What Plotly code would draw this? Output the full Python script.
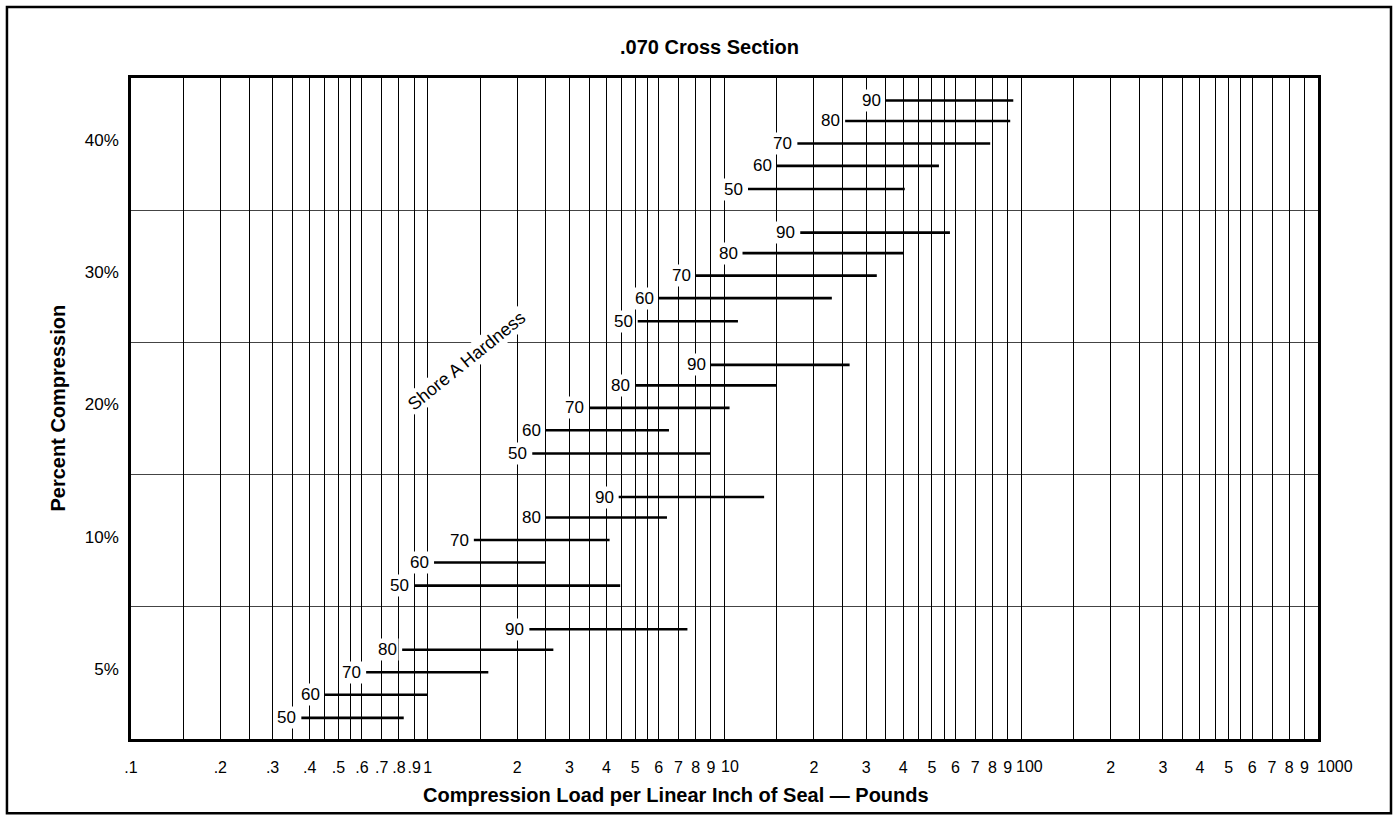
import math
import plotly.graph_objects as go

# ---------------- data ----------------
compression = ["5%", "10%", "20%", "30%", "40%"]
hardness = [50, 60, 70, 80, 90]

# load (lb per linear inch) where each hardness bar starts / ends, per compression band
start_5 = [0.375, 0.45, 0.62, 0.82, 2.2]
end_5 = [0.83, 1.0, 1.6, 2.65, 7.5]
start_10 = [0.9, 1.05, 1.43, 2.5, 4.4]
end_10 = [4.45, 2.5, 4.1, 6.4, 13.6]
start_20 = [2.25, 2.5, 3.5, 5.0, 9.0]
end_20 = [9.0, 6.5, 10.4, 15.0, 26.4]
start_30 = [5.1, 6.0, 8.0, 11.5, 18.0]
end_30 = [11.1, 23.0, 32.6, 40.2, 57.5]
start_40 = [12.0, 15.0, 17.6, 25.5, 35.0]
end_40 = [40.5, 52.8, 78.6, 91.8, 94.0]

starts = [start_5, start_10, start_20, start_30, start_40]
ends = [end_5, end_10, end_20, end_30, end_40]

# x axis grid & labels
grid_mantissas = [1, 1.5, 2, 2.5, 3, 3.5, 4, 4.5, 5, 5.5, 6, 7, 8, 9]
grid_decades = [0.1, 1, 10, 100]
tick_values = [0.1, 0.2, 0.3, 0.4, 0.5, 0.6, 0.7, 0.8, 0.9,
               1, 2, 3, 4, 5, 6, 7, 8, 9,
               20, 30, 40, 50, 60, 70, 80, 90,
               200, 300, 400, 500, 600, 700, 800, 900]
tick_labels = [".1", ".2", ".3", ".4", ".5", ".6", ".7", ".8", ".9",
               "1", "2", "3", "4", "5", "6", "7", "8", "9",
               "2", "3", "4", "5", "6", "7", "8", "9",
               "2", "3", "4", "5", "6", "7", "8", "9"]
# decade labels printed just to the right of their grid line
decade_values = [10, 100, 1000]
decade_labels = ["10", "100", "1000"]

# ---------------- layout constants ----------------
row_offset = [0.16, 0.335, 0.505, 0.675, 0.83]   # position of each hardness bar within its band
decade_shift = [-6, -7, -3]
FONT = "Liberation Sans, Arial, Helvetica, sans-serif"

grid_values = [round(d * m, 6) for d in grid_decades for m in grid_mantissas] + [1000]
label_for = {round(v, 6): t for v, t in zip(tick_values, tick_labels)}
grid_text = [label_for.get(round(v, 6), "") for v in grid_values]

fig = go.Figure()

xs, ys = [], []
annotations = []
for bi, band in enumerate(compression):
    for hi, h in enumerate(hardness):
        y = bi + row_offset[hi]
        xs += [starts[bi][hi], ends[bi][hi], None]
        ys += [y, y, None]
        annotations.append(dict(
            x=math.log10(starts[bi][hi]), y=y, xref="x", yref="y",
            text=str(h), showarrow=False, xanchor="right", yanchor="middle",
            xshift=-3, bgcolor="white", borderpad=1,
            font=dict(family=FONT, size=17, color="black")))

fig.add_trace(go.Scatter(x=xs, y=ys, mode="lines",
                         line=dict(color="black", width=2.6),
                         hoverinfo="skip", showlegend=False))

for v, t, s in zip(decade_values, decade_labels, decade_shift):
    annotations.append(dict(
        x=math.log10(v), y=0, xref="x", yref="paper", yshift=-27,
        text=t, showarrow=False, xanchor="left", yanchor="middle", xshift=s,
        font=dict(family=FONT, size=16, color="black")))

annotations.append(dict(
    x=math.log10(1.35), y=2.86, xref="x", yref="y", text="Shore A Hardness",
    showarrow=False, textangle=-39, bgcolor="white", borderpad=1,
    font=dict(family=FONT, size=18, color="black")))

annotations.append(dict(
    x=0.487, y=1.0, xref="paper", yref="paper", yshift=31, yanchor="middle",
    text="<b>.070 Cross Section</b>", showarrow=False,
    font=dict(family=FONT, size=20, color="black")))

annotations.append(dict(
    x=0.459, y=0.0, xref="paper", yref="paper", yshift=-56, yanchor="middle",
    text="<b>Compression Load per Linear Inch of Seal — Pounds</b>", showarrow=False,
    font=dict(family=FONT, size=20, color="black")))

annotations.append(dict(
    x=-0.0623, y=0.5, xref="paper", yref="paper", xanchor="center", yanchor="middle",
    text="<b>Percent Compression</b>", showarrow=False, textangle=-90,
    font=dict(family=FONT, size=20, color="black")))

fig.update_layout(
    width=1399, height=821,
    margin=dict(l=131, r=81, t=78, b=82),
    paper_bgcolor="white", plot_bgcolor="white",
    font=dict(family=FONT, size=16, color="black"),
    annotations=annotations,
    shapes=[dict(type="rect", xref="paper", yref="paper",
                 x0=-0.1045, x1=1.0615, y0=-0.1125, y1=1.1075,
                 line=dict(color="black", width=2.5), layer="below")],
    xaxis=dict(
        type="log", range=[-1, 3],
        tickvals=grid_values, ticktext=grid_text, tickangle=0,
        showgrid=True, gridcolor="black", gridwidth=1,
        showline=True, linecolor="black", linewidth=2.5, mirror=True,
        ticks="", ticklabelstandoff=12, zeroline=False,
        tickfont=dict(family=FONT, size=16),
    ),
    yaxis=dict(
        range=[0, 5],
        tickvals=[i + 0.53 for i in range(len(compression))], ticktext=compression,
        showgrid=False, zeroline=False,
        showline=True, linecolor="black", linewidth=2.5, mirror=True,
        ticks="", ticklabelstandoff=6,
        tickfont=dict(family=FONT, size=17),
        minor=dict(tickvals=[1, 2, 3, 4], showgrid=True, gridcolor="#444", gridwidth=1, ticks=""),
    ),
)

fig.write_html("out.html", config={"displayModeBar": False})

# remove the browser's default page margin so the figure sits at the window origin
with open("out.html", "r", encoding="utf-8") as f:
    html = f.read()
html = html.replace("<head>", "<head><style>html,body{margin:0;padding:0;overflow:hidden;}</style>", 1)
with open("out.html", "w", encoding="utf-8") as f:
    f.write(html)
